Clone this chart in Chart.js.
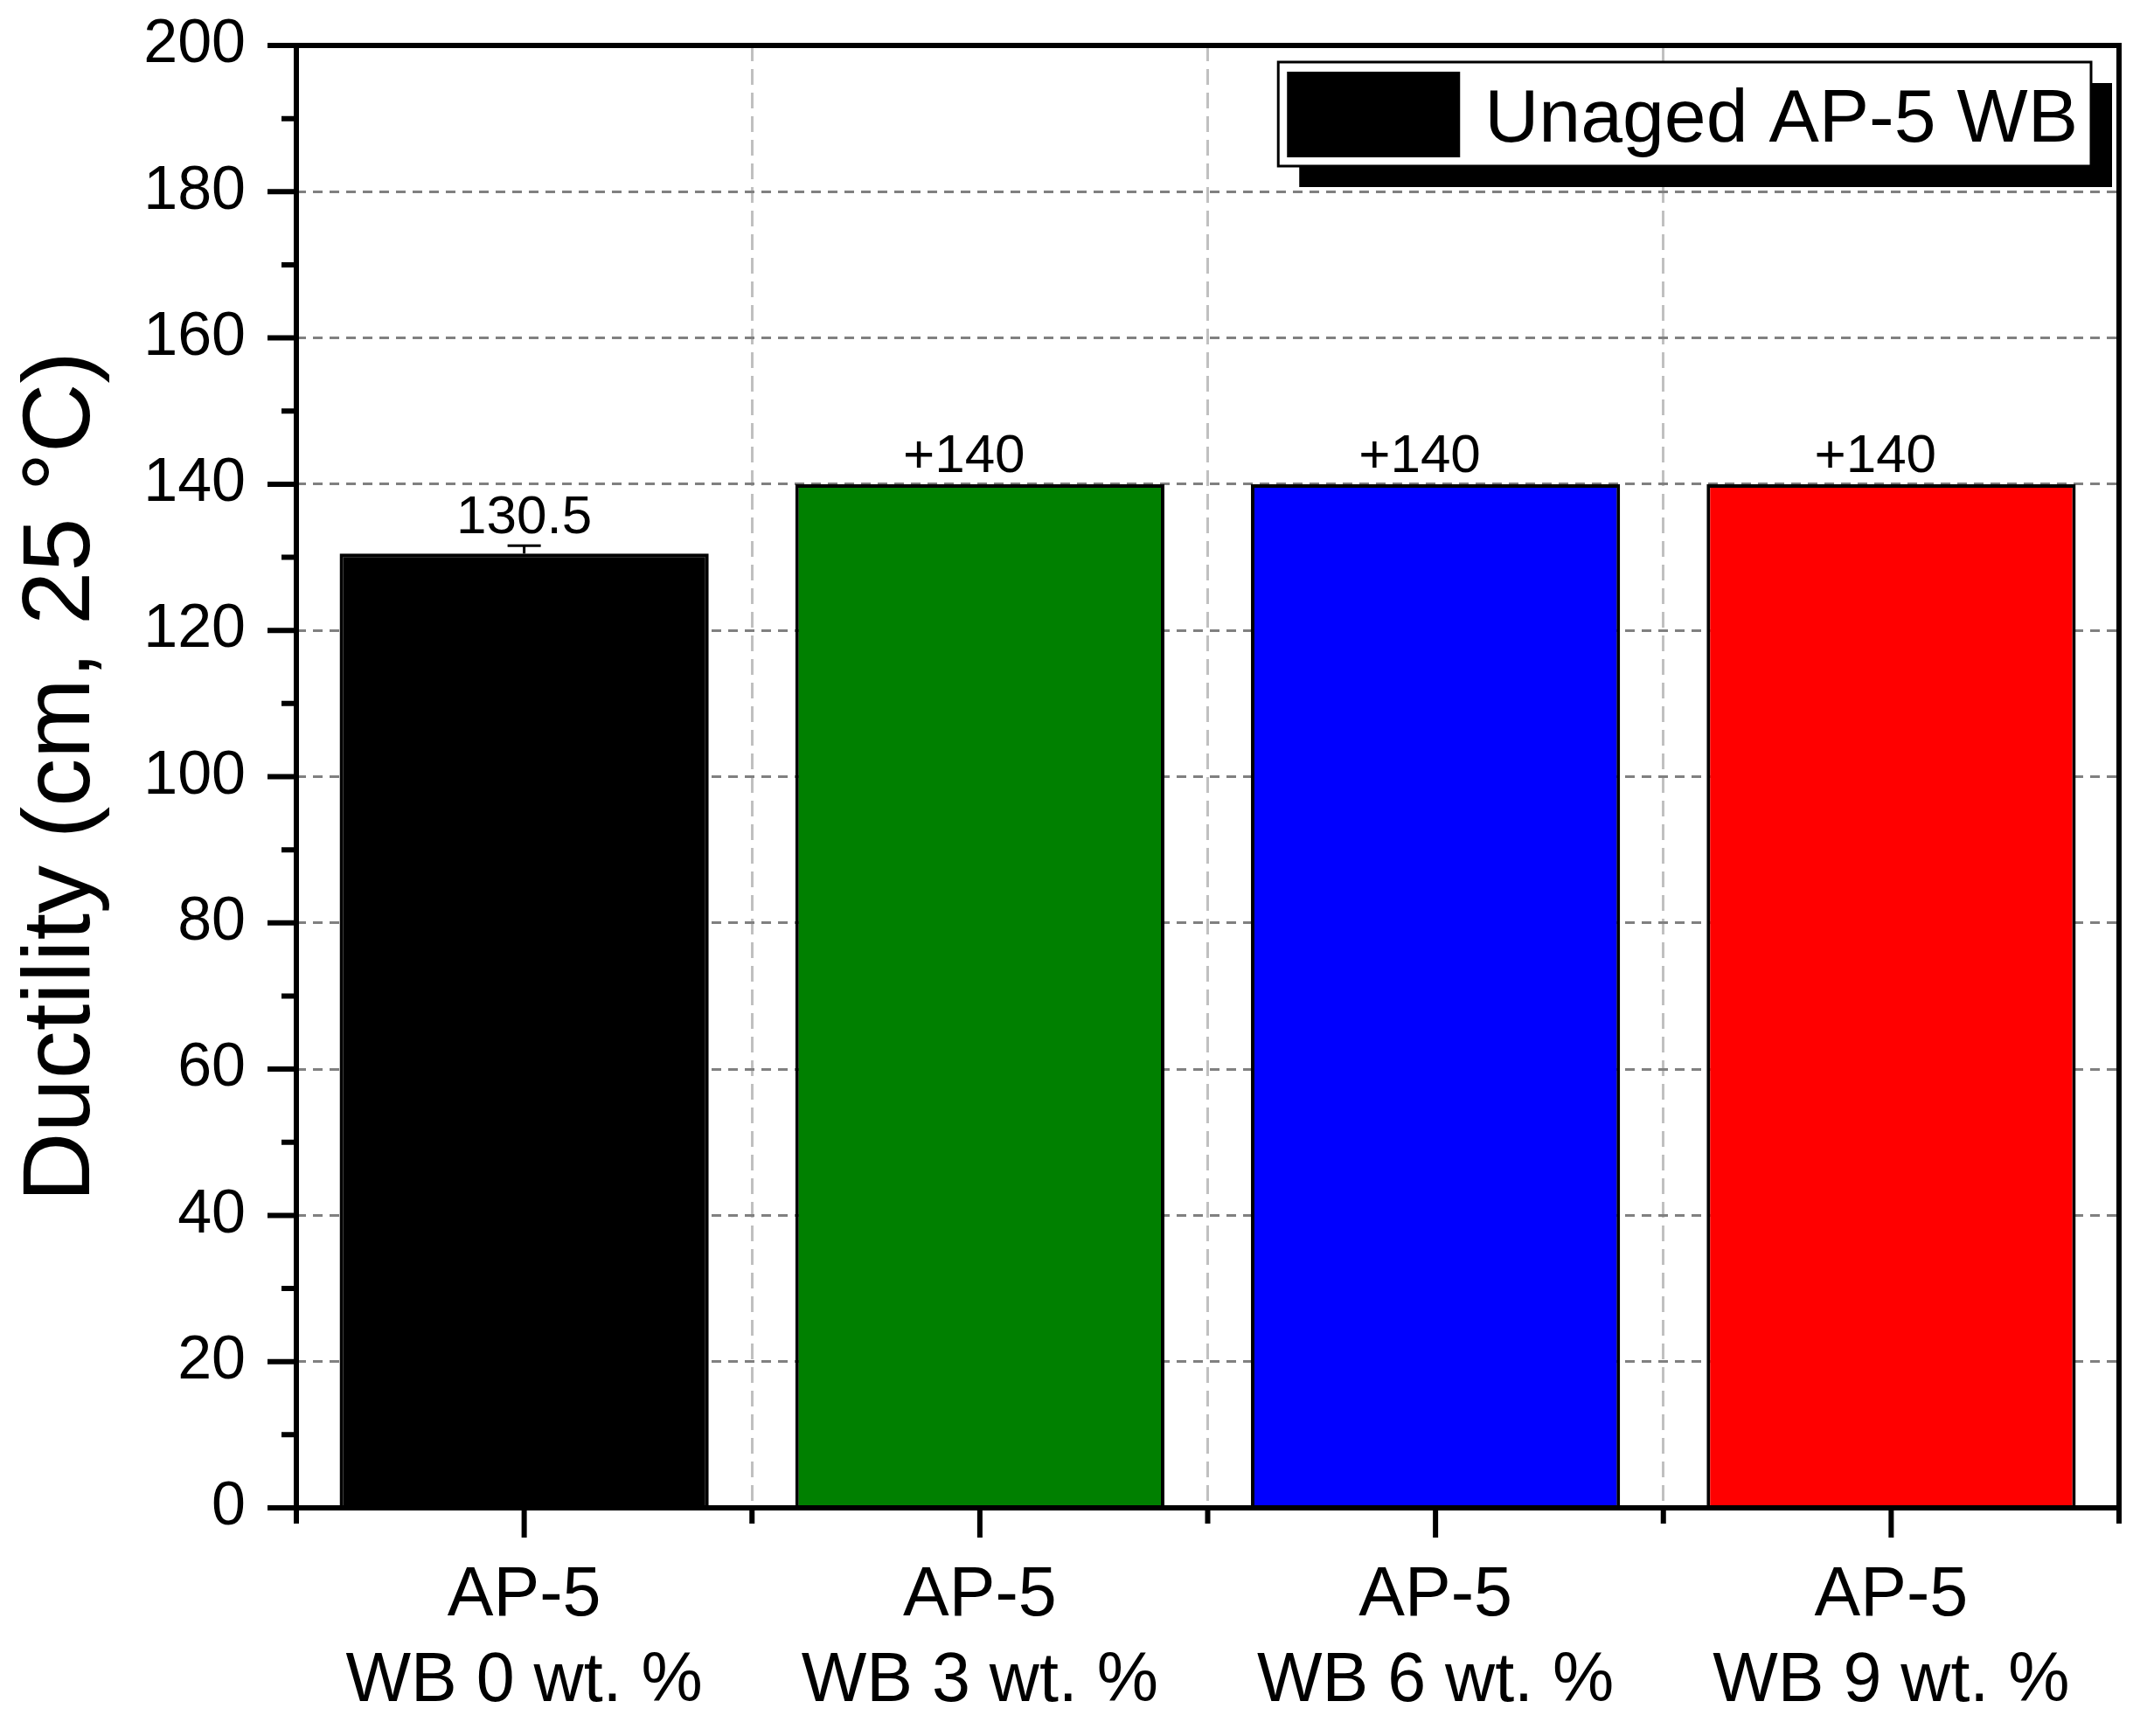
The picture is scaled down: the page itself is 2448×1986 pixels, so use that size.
<!DOCTYPE html>
<html>
<head>
<meta charset="utf-8">
<script src="https://cdn.jsdelivr.net/npm/chart.js@4.4.0/dist/chart.umd.min.js"></script>
<style>
  html, body { margin: 0; padding: 0; background: #fff; }
  canvas { display: block; }
</style>
</head>
<body>
<canvas id="bar-chart" width="2448" height="1986" style="width:2448px;height:1986px"></canvas>
<script>
// dados
const categories = [['AP-5', 'WB 0 wt. %'], ['AP-5', 'WB 3 wt. %'], ['AP-5', 'WB 6 wt. %'], ['AP-5', 'WB 9 wt. %']];
const ductility = [130.5, 140, 140, 140];
const errors = [1.1, 0, 0, 0];
const valueLabels = ['130.5', '+140', '+140', '+140'];
const barColors = ['#000000', '#008000', '#0000ff', '#ff0000'];
const seriesName = 'Unaged AP-5 WB';
const yMin = 0, yMax = 200, yStep = 20;

const FONT = 'Arial, "Liberation Sans", sans-serif';

// moldura, ticks, barras de erro, rótulos e legenda
const extras = {
  id: 'extras',
  afterDatasetsDraw(chart) {
    const { ctx, scales: { y } } = chart;
    const bars = chart.getDatasetMeta(0).data;
    ctx.save();
    ctx.strokeStyle = '#000';
    ctx.lineWidth = 3;
    bars.forEach((bar, i) => {
      if (!errors[i]) return;
      const y0 = y.getPixelForValue(ductility[i]);
      const y1 = y.getPixelForValue(ductility[i] + errors[i]);
      ctx.beginPath();
      ctx.moveTo(bar.x, y0); ctx.lineTo(bar.x, y1);
      ctx.moveTo(bar.x - 19, y1); ctx.lineTo(bar.x + 19, y1);
      ctx.stroke();
    });
    ctx.font = '62px ' + FONT;
    ctx.fillStyle = '#000';
    ctx.textBaseline = 'alphabetic';
    bars.forEach((bar, i) => {
      const base = y.getPixelForValue(ductility[i] + errors[i]) - 14;
      const txt = valueLabels[i];
      const sign = txt.startsWith('+') ? '+' : '';
      const core = txt.slice(sign.length);
      ctx.textAlign = 'center';
      ctx.fillText(core, bar.x, base);
      if (sign) {
        ctx.textAlign = 'right';
        ctx.fillText(sign, bar.x - ctx.measureText(core).width / 2, base);
      }
    });
    ctx.restore();
  },
  afterDraw(chart) {
    const { ctx, chartArea: a, scales: { x, y } } = chart;
    ctx.save();
    ctx.strokeStyle = '#000';
    ctx.lineWidth = 6;
    ctx.lineCap = 'butt';
    ctx.strokeRect(a.left, a.top, a.right - a.left, a.bottom - a.top);

    // ticks do eixo y
    ctx.beginPath();
    y.ticks.forEach((t, i) => {
      const py = y.getPixelForValue(t.value);
      ctx.moveTo(a.left - 33, py); ctx.lineTo(a.left, py);
      if (i < y.ticks.length - 1) {
        const pm = y.getPixelForValue((t.value + y.ticks[i + 1].value) / 2);
        ctx.moveTo(a.left - 17, pm); ctx.lineTo(a.left, pm);
      }
    });
    // ticks do eixo x
    categories.forEach((c, i) => {
      const px = x.getPixelForValue(i);
      ctx.moveTo(px, a.bottom); ctx.lineTo(px, a.bottom + 34);
    });
    for (let i = 0; i <= categories.length; i++) {
      const px = x.getPixelForValue(i - 0.5);
      ctx.moveTo(px, a.bottom); ctx.lineTo(px, a.bottom + 18);
    }
    ctx.stroke();

    // legenda
    ctx.font = '86px ' + FONT;
    const tw = ctx.measureText(seriesName).width;
    const w = 10 + 198 + 28 + tw + 15, h = 119;
    const left = a.right - 32 - w, top = a.top + 19;
    ctx.fillStyle = '#000';
    ctx.fillRect(left + 24, top + 24, w, h);
    ctx.fillStyle = '#fff';
    ctx.fillRect(left, top, w, h);
    ctx.lineWidth = 3;
    ctx.strokeRect(left, top, w, h);
    ctx.fillStyle = chart.data.datasets[0].backgroundColor[0];
    ctx.fillRect(left + 10, top + 11, 198, 98);
    ctx.fillStyle = '#000';
    ctx.textAlign = 'left';
    ctx.textBaseline = 'alphabetic';
    ctx.fillText(seriesName, left + 236, top + 91);
    ctx.restore();
  }
};

const ctx = document.getElementById('bar-chart').getContext('2d');
new Chart(ctx, {
  type: 'bar',
  data: {
    labels: categories,
    datasets: [{
      label: seriesName,
      data: ductility,
      backgroundColor: barColors,
      borderColor: '#000',
      borderWidth: 4,
      barPercentage: 0.81,
      categoryPercentage: 1.0
    }]
  },
  options: {
    responsive: false,
    devicePixelRatio: 1,
    animation: false,
    layout: { autoPadding: false, padding: { top: 52, right: 24, left: 0, bottom: 0 } },
    plugins: {
      legend: { display: false },
      tooltip: { enabled: false }
    },
    scales: {
      x: {
        afterFit: (s) => { s.height = 261; s.paddingLeft = 0; s.paddingRight = 0; },
        border: { display: false, dash: [18, 9] },
        grid: { color: '#c0c0c0', lineWidth: 3, drawTicks: false, offset: true },
        ticks: {
          color: '#000',
          padding: 52,
          maxRotation: 0,
          autoSkip: false,
          font: { family: FONT, size: 79, lineHeight: 1.24 }
        }
      },
      y: {
        min: yMin,
        max: yMax,
        afterFit: (s) => { s.width = 339; s.paddingTop = 0; s.paddingBottom = 0; },
        border: { display: false, dash: [11, 8] },
        grid: { color: '#808080', lineWidth: 3, drawTicks: false },
        ticks: {
          stepSize: yStep,
          color: '#000',
          padding: 58,
          font: { family: FONT, size: 70 }
        },
        title: {
          display: true,
          text: 'Ductility (cm, 25 °C)',
          color: '#000',
          padding: { top: 6, bottom: 0 },
          font: { family: FONT, size: 110 }
        }
      }
    }
  },
  plugins: [extras]
});
</script>
</body>
</html>
